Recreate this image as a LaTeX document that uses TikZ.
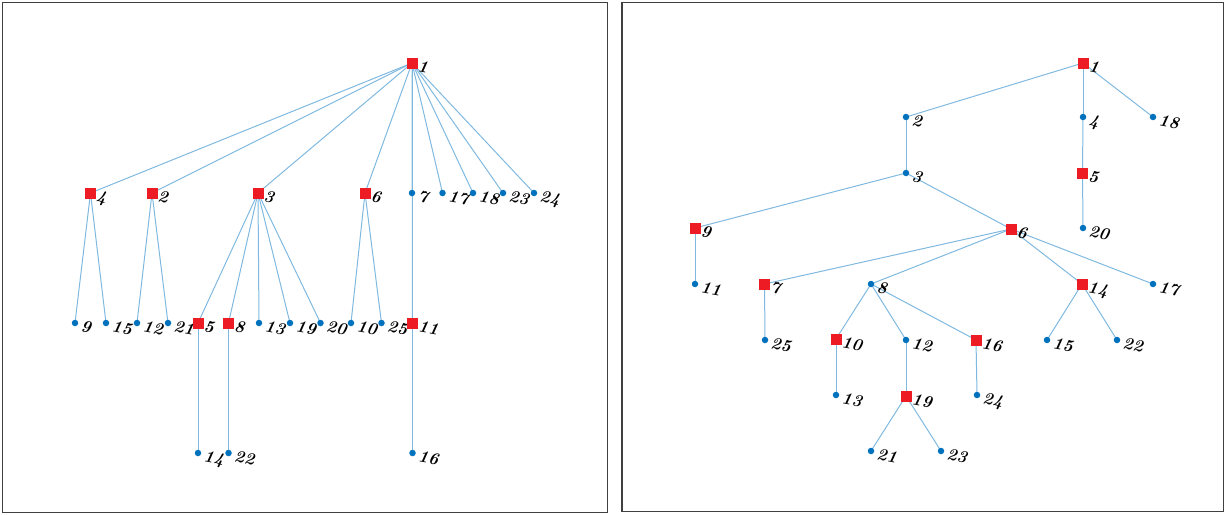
\documentclass[tikz,border=0pt]{standalone}
\usetikzlibrary{backgrounds}
\definecolor{nred}{RGB}{237,28,36}
\definecolor{nblue}{RGB}{0,114,189}
\definecolor{eblue}{RGB}{128,185,224}
\definecolor{frm}{RGB}{64,64,64}
\tikzset{
  rn/.style={rectangle, fill=nred, minimum size=11pt, inner sep=0pt},
  bn/.style={circle, fill=nblue, minimum size=6.5pt, inner sep=0pt},
  lbl/.style={anchor=north west, inner sep=0pt, rotate=-10, font=\fontsize{17}{19}\selectfont\bfseries\itshape},
  edge/.style={draw=eblue, line width=1pt},
  frame/.style={draw=frm, line width=1.3pt}
}
\newcommand\gnode[4]{\node[#1] (#2) at (#3) {};\node[lbl] at ([shift={(7,-3)}]#2.center) {#4};}
\begin{document}
\begin{tikzpicture}[x=1pt, y=-1pt]
\useasboundingbox (0,0) rectangle (1225,514);
\draw[frame] (2.5,2.5) rectangle (607.5,512.8);
\draw[frame] (622,2.5) rectangle (1223.5,511.5);
% ---------- left tree ----------
\gnode{rn}{L1}{412,63}{1}
\gnode{rn}{L4}{90.5,193}{4}
\gnode{rn}{L2}{152,193}{2}
\gnode{rn}{L3}{258,193}{3}
\gnode{rn}{L6}{365,193}{6}
\gnode{bn}{L7}{412,193}{7}
\gnode{bn}{L17}{442.5,193}{17}
\gnode{bn}{L18}{473,193}{18}
\gnode{bn}{L23}{503,193}{23}
\gnode{bn}{L24}{534,193}{24}
\gnode{bn}{L9}{75,323}{9}
\gnode{bn}{L15}{106,323}{15}
\gnode{bn}{L12}{137,323}{12}
\gnode{bn}{L21}{168,323}{21}
\gnode{rn}{L5}{198,323}{5}
\gnode{rn}{L8}{228.5,323}{8}
\gnode{bn}{L13}{259,323}{13}
\gnode{bn}{L19}{290,323}{19}
\gnode{bn}{L20}{320.5,323}{20}
\gnode{bn}{L10}{351,323}{10}
\gnode{bn}{L25}{381.5,323}{25}
\gnode{rn}{L11}{412.5,323}{11}
\gnode{bn}{L14}{198,453}{14}
\gnode{bn}{L22}{228.5,453}{22}
\gnode{bn}{L16}{412.5,453}{16}
% ---------- right tree ----------
\gnode{rn}{R1}{1083,63}{1}
\gnode{bn}{R2}{906,117}{2}
\gnode{bn}{R4}{1083,117}{4}
\gnode{bn}{R18}{1153,117}{18}
\gnode{bn}{R3}{906,173}{3}
\gnode{rn}{R5}{1082.5,173}{5}
\gnode{rn}{R9}{695,228}{9}
\gnode{rn}{R6}{1011,229}{6}
\gnode{bn}{R20}{1083,228}{20}
\gnode{bn}{R11}{695,284}{11}
\gnode{rn}{R7}{764.5,284}{7}
\gnode{bn}{R8}{871,284}{8}
\gnode{rn}{R14}{1082,284}{14}
\gnode{bn}{R17}{1153,284}{17}
\gnode{bn}{R25}{765,340}{25}
\gnode{rn}{R10}{836,339}{10}
\gnode{bn}{R12}{906,340}{12}
\gnode{rn}{R16}{976,340}{16}
\gnode{bn}{R15}{1047,340}{15}
\gnode{bn}{R22}{1117,340}{22}
\gnode{bn}{R13}{836,395}{13}
\gnode{rn}{R19}{906,396}{19}
\gnode{bn}{R24}{977,395}{24}
\gnode{bn}{R21}{871,451}{21}
\gnode{bn}{R23}{941,451}{23}
\begin{scope}[on background layer]
\foreach \c in {4,2,3,6,7,17,18,23,24,11} \draw[edge] (L1.center) -- (L\c.center);
\foreach \p/\c in {4/9,4/15,2/12,2/21,3/5,3/8,3/13,3/19,3/20,6/10,6/25,5/14,8/22,11/16}
  \draw[edge] (L\p.center) -- (L\c.center);
\foreach \p/\c in {1/2,1/4,1/18,2/3,4/5,5/20,3/9,3/6,9/11,6/7,6/8,6/14,6/17,7/25,8/10,8/12,8/16,10/13,12/19,16/24,14/15,14/22,19/21,19/23}
  \draw[edge] (R\p.center) -- (R\c.center);
\end{scope}
\end{tikzpicture}
\end{document}
